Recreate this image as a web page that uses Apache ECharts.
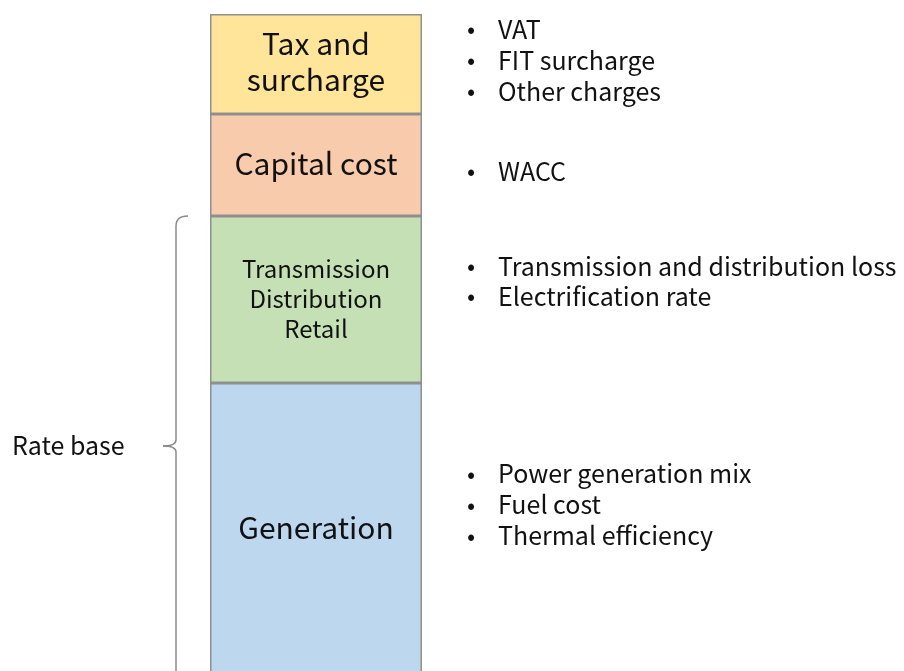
<!DOCTYPE html>
<html>
<head>
<meta charset="utf-8">
<script src="https://cdn.jsdelivr.net/npm/echarts@6/dist/echarts.min.js"></script>
<style>
html,body{margin:0;padding:0;background:#fff;overflow:hidden;}
#main{width:904px;height:690px;}
</style>
</head>
<body>
<div id="main"></div>
<script>
// ---- data ----
const categories = ['Electricity price'];
const segmentNames = ['Generation', 'Transmission\nDistribution\nRetail', 'Capital cost', 'Tax and\nsurcharge'];
const segmentValues = [295, 167, 102, 100];
const driverLists = [
  ['Power generation mix', 'Fuel cost', 'Thermal efficiency'],
  ['Transmission and distribution loss', 'Electrification rate'],
  ['WACC'],
  ['VAT', 'FIT surcharge', 'Other charges']
];
const braceLabel = 'Rate base';
const braceSegments = [0, 1]; // Generation + T/D/R form the rate base

// ---- styles / layout ----
const segmentColors = ['#BDD7EE', '#C5E0B4', '#F8CBAD', '#FFE599'];
const labelSizes = [30, 24, 30, 30];
const labelLineHeights = [36, 30, 36, 36];
const labelShifts = [-3, -1, -1, -2];
const driverOffsets = [-26, -18.5, 6, -4];
const driverLineHeights = [31, 30, 31, 31];
const FONT = '"Noto Sans CJK JP", "Noto Sans", sans-serif';
const total = segmentValues.reduce((a, b) => a + b, 0);

const chart = echarts.init(document.getElementById('main'));
chart.setOption({
  animation: false,
  grid: { left: 210, width: 212, top: 14, height: total },
  xAxis: { type: 'category', data: categories, show: false },
  yAxis: { type: 'value', min: 0, max: total, show: false },
  series: segmentNames.map((name, i) => ({
    name: name,
    type: 'bar',
    stack: 'price',
    barWidth: '100%',
    data: [segmentValues[i]],
    itemStyle: { color: segmentColors[i], borderColor: '#8f8f8f', borderWidth: 1.5 },
    label: {
      show: true,
      position: 'inside',
      offset: [0, labelShifts[i]],
      formatter: name,
      color: '#111',
      fontFamily: FONT,
      fontSize: labelSizes[i],
      lineHeight: labelLineHeights[i]
    }
  }))
});

// annotations positioned through the chart's own scale
const graphics = [];
let cum = 0;
const bounds = segmentValues.map(v => { const lo = cum; cum += v; return [lo, cum]; });
segmentValues.forEach((v, i) => {
  const mid = chart.convertToPixel({ gridIndex: 0 }, [0, bounds[i][0] + v / 2])[1];
  const items = driverLists[i];
  const lh = driverLineHeights[i];
  const startY = mid + driverOffsets[i] - (items.length - 1) * lh / 2;
  items.forEach((t, k) => {
    const y = startY + k * lh;
    graphics.push({ type: 'text', x: 471, y: y, style: { text: '•', fontSize: 24, fontFamily: FONT, fill: '#111', align: 'center', verticalAlign: 'middle' } });
    graphics.push({ type: 'text', x: 498, y: y, style: { text: t, fontSize: 25, fontFamily: FONT, fill: '#111', align: 'left', verticalAlign: 'middle' } });
  });
});

const braceTop = chart.convertToPixel({ gridIndex: 0 }, [0, bounds[braceSegments[braceSegments.length - 1]][1]])[1];
const braceBot = chart.convertToPixel({ gridIndex: 0 }, [0, bounds[braceSegments[0]][0]])[1];
const braceMid = (braceTop + braceBot) / 2 - 1;
const bx = 176;
const braceStyle = { stroke: '#8a8a8a', lineWidth: 1.5, fill: null };
graphics.push({ type: 'bezierCurve', shape: { x1: bx + 12, y1: braceTop, x2: bx, y2: braceTop + 10, cpx1: bx, cpy1: braceTop }, style: braceStyle });
graphics.push({ type: 'line', shape: { x1: bx, y1: braceTop + 10, x2: bx, y2: braceMid - 6 }, style: braceStyle });
graphics.push({ type: 'bezierCurve', shape: { x1: bx, y1: braceMid - 6, x2: bx - 13, y2: braceMid, cpx1: bx, cpy1: braceMid }, style: braceStyle });
graphics.push({ type: 'bezierCurve', shape: { x1: bx - 13, y1: braceMid, x2: bx, y2: braceMid + 6, cpx1: bx, cpy1: braceMid }, style: braceStyle });
graphics.push({ type: 'line', shape: { x1: bx, y1: braceMid + 6, x2: bx, y2: braceBot }, style: braceStyle });
graphics.push({ type: 'text', x: 12, y: braceMid - 1, style: { text: braceLabel, fontSize: 25, fontFamily: FONT, fill: '#111', align: 'left', verticalAlign: 'middle' } });

chart.setOption({ graphic: graphics });
</script>
</body>
</html>
